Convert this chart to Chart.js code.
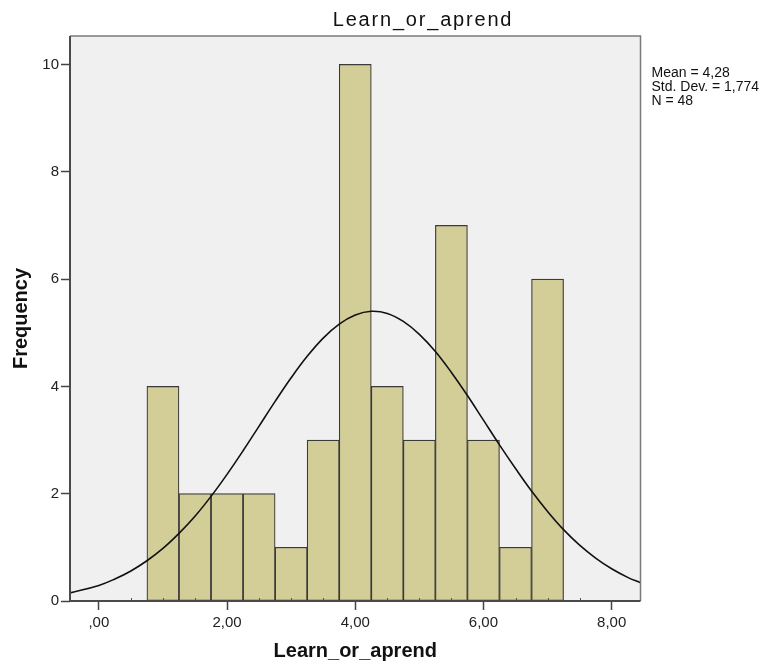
<!DOCTYPE html>
<html>
<head>
<meta charset="utf-8">
<script src="https://cdn.jsdelivr.net/npm/chart.js@4.4.1/dist/chart.umd.min.js"></script>
<style>
  body { margin: 0; background: #fff; }
  #wrap { width: 769px; height: 666px; position: relative; }
</style>
</head>
<body>
<div id="wrap"><canvas id="histChart"></canvas></div>
<script>
// Learn_or_aprend histogram, bins 0,5 wide
const binCenters = [1, 1.5, 2, 2.5, 3, 3.5, 4, 4.5, 5, 5.5, 6, 6.5, 7];
const frequencies = [4, 2, 2, 2, 1, 3, 10, 4, 3, 7, 3, 1, 6];

// fitted normal curve (mean 4,28, sd 1,774) in frequency units
const curveX = [-0.45, 0, 0.25, 0.5, 0.75, 1, 1.25, 1.5, 1.75, 2, 2.25, 2.5, 2.75, 3, 3.25, 3.5, 3.75, 4,
  4.25, 4.5, 4.75, 5, 5.25, 5.5, 5.75, 6, 6.25, 6.5, 6.75, 7, 7.25, 7.5, 7.75, 8, 8.25, 8.45];
const curveY = [0.15, 0.29, 0.41, 0.56, 0.75, 0.98, 1.26, 1.58, 1.95, 2.36, 2.80, 3.26, 3.72, 4.16, 4.56, 4.90, 5.16, 5.33,
  5.40, 5.36, 5.21, 4.97, 4.65, 4.26, 3.83, 3.37, 2.91, 2.47, 2.05, 1.67, 1.33, 1.04, 0.80, 0.60, 0.44, 0.34];

const xTicks = [0, 2, 4, 6, 8];
const xTickLabels = [',00', '2,00', '4,00', '6,00', '8,00'];
const yTicks = [0, 2, 4, 6, 8, 10];
const statsLines = ['Mean = 4,28', 'Std. Dev. = 1,774', 'N = 48'];

const FONT = "'Liberation Sans', Arial, sans-serif";

// plot background, frame, minor ticks, title and the stats box
const plotFrame = {
  id: 'plotFrame',
  beforeDatasetsDraw(chart) {
    const { ctx, chartArea: a } = chart;
    ctx.save();
    ctx.fillStyle = '#f0f0f0';
    ctx.fillRect(a.left, a.top, a.right - a.left, a.bottom - a.top);
    ctx.restore();
  },
  afterDatasetsDraw(chart) {
    const { ctx, chartArea: a } = chart;
    const xs = chart.scales.x;
    ctx.save();
    // minor ticks every 0,5
    ctx.strokeStyle = '#555';
    ctx.lineWidth = 1;
    for (let v = 0.5; v < 8.5; v += 0.5) {
      if (v % 2 === 0) continue;
      const px = Math.round(xs.getPixelForValue(v)) + 0.5;
      ctx.beginPath();
      ctx.moveTo(px, a.bottom - 3);
      ctx.lineTo(px, a.bottom);
      ctx.stroke();
    }
    // frame
    ctx.strokeStyle = '#7a7a7a';
    ctx.lineWidth = 1.5;
    ctx.beginPath();
    ctx.moveTo(a.left, a.top);
    ctx.lineTo(a.right, a.top);
    ctx.lineTo(a.right, a.bottom);
    ctx.stroke();
    ctx.strokeStyle = '#4a4a4a';
    ctx.lineWidth = 2;
    ctx.beginPath();
    ctx.moveTo(a.left, a.top);
    ctx.lineTo(a.left, a.bottom);
    ctx.lineTo(a.right, a.bottom);
    ctx.stroke();
    ctx.restore();
  },
  afterDraw(chart) {
    const { ctx, chartArea: a } = chart;
    ctx.save();
    ctx.fillStyle = '#111';
    ctx.font = '20px ' + FONT;
    ctx.textAlign = 'center';
    ctx.textBaseline = 'alphabetic';
    ctx.letterSpacing = '1.8px';
    ctx.fillText('Learn_or_aprend', 423, 26);
    ctx.letterSpacing = '0px';
    ctx.font = '14px ' + FONT;
    ctx.textAlign = 'left';
    statsLines.forEach((line, i) => {
      ctx.fillText(line, a.right + 11, 77 + i * 14);
    });
    ctx.restore();
  }
};

new Chart(document.getElementById('histChart'), {
  type: 'bar',
  data: {
    datasets: [
      {
        type: 'line',
        data: curveX.map((x, i) => ({ x: x, y: curveY[i] })),
        borderColor: '#111',
        borderWidth: 1.6,
        pointRadius: 0,
        tension: 0.4,
        fill: false,
        order: 0
      },
      {
        type: 'bar',
        data: binCenters.map((x, i) => ({ x: x, y: frequencies[i] })),
        backgroundColor: '#d3ce98',
        borderColor: '#3a3a3a',
        borderWidth: 1.2,
        borderSkipped: false,
        barPercentage: 1,
        categoryPercentage: 1,
        order: 1
      }
    ]
  },
  options: {
    responsive: true,
    maintainAspectRatio: false,
    animation: false,
    layout: { padding: { top: 36, right: 128.5, left: 0, bottom: 0 } },
    plugins: {
      legend: { display: false },
      tooltip: { enabled: false }
    },
    scales: {
      x: {
        type: 'linear',
        min: -0.45,
        max: 8.45,
        offset: false,
        afterBuildTicks: s => { s.ticks = xTicks.map(v => ({ value: v })); },
        afterFit: s => { s.height = 65; },
        ticks: {
          callback: (v, i) => xTickLabels[i],
          color: '#222',
          font: { family: FONT, size: 15 },
          padding: 4,
          maxRotation: 0,
          autoSkip: false
        },
        grid: { offset: false, drawOnChartArea: false, drawTicks: true, tickLength: 9, tickColor: '#444', tickWidth: 1.5 },
        border: { display: false },
        title: {
          display: true,
          text: 'Learn_or_aprend',
          color: '#111',
          font: { family: FONT, size: 20, weight: 'bold' },
          padding: { top: 0, bottom: 3 }
        }
      },
      y: {
        min: 0,
        max: 10.53,
        afterBuildTicks: s => { s.ticks = yTicks.map(v => ({ value: v })); },
        afterFit: s => { s.width = 70; },
        ticks: {
          color: '#222',
          font: { family: FONT, size: 15 },
          padding: 2
        },
        grid: { drawOnChartArea: false, drawTicks: true, tickLength: 9, tickColor: '#444', tickWidth: 1.5 },
        border: { display: false },
        title: {
          display: true,
          text: 'Frequency',
          color: '#111',
          font: { family: FONT, size: 20, weight: 'bold' },
          padding: { top: 9, bottom: 0 }
        }
      }
    }
  },
  plugins: [plotFrame]
});
</script>
</body>
</html>
